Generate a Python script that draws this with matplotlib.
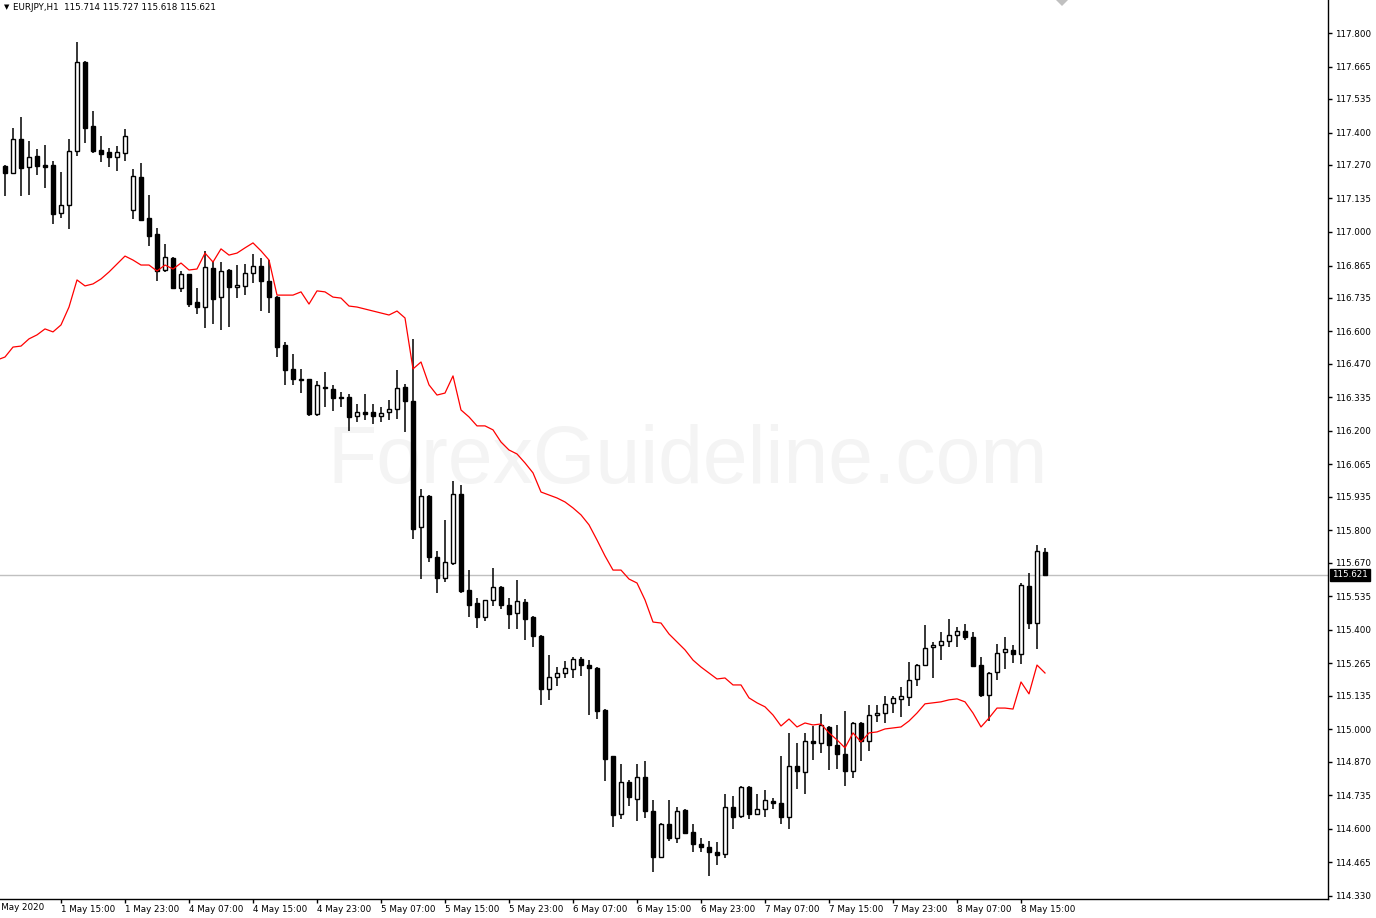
import matplotlib
matplotlib.use('Agg')
import matplotlib.pyplot as plt
from matplotlib.patches import Polygon

# EURJPY H1 candles, 1 May 08:00 .. 8 May 18:00
opens = [117.265, 117.237, 117.374, 117.261, 117.306, 117.269, 117.269, 117.076, 117.108, 117.326,
         117.684, 117.426, 117.330, 117.322, 117.302, 117.318, 117.088, 117.221, 117.056, 116.992,
         116.847, 116.895, 116.775, 116.831, 116.718, 116.698, 116.855, 116.738, 116.847, 116.779,
         116.783, 116.835, 116.863, 116.803, 116.738, 116.545, 116.449, 116.409, 116.409, 116.268,
         116.376, 116.368, 116.336, 116.336, 116.260, 116.276, 116.276, 116.260, 116.276, 116.288,
         116.376, 116.320, 115.813, 115.938, 115.693, 115.608, 115.669, 115.946, 115.560, 115.508,
         115.451, 115.520, 115.572, 115.500, 115.468, 115.512, 115.451, 115.375, 115.162, 115.210,
         115.226, 115.242, 115.282, 115.258, 115.246, 115.077, 114.892, 114.659, 114.788, 114.719,
         114.808, 114.671, 114.486, 114.619, 114.563, 114.675, 114.587, 114.538, 114.526, 114.506,
         114.498, 114.687, 114.651, 114.768, 114.659, 114.679, 114.711, 114.703, 114.647, 114.852,
         114.828, 114.953, 114.945, 115.009, 114.937, 114.900, 114.832, 115.025, 114.953, 115.057,
         115.065, 115.106, 115.122, 115.130, 115.202, 115.258, 115.331, 115.339, 115.355, 115.379,
         115.395, 115.371, 115.258, 115.138, 115.230, 115.311, 115.319, 115.303, 115.576, 115.427,
         115.714]
highs = [117.269, 117.418, 117.462, 117.366, 117.334, 117.350, 117.285, 117.241, 117.374, 117.764,
         117.688, 117.487, 117.386, 117.338, 117.346, 117.414, 117.253, 117.277, 117.149, 117.016,
         116.952, 116.899, 116.843, 116.831, 116.775, 116.924, 116.883, 116.879, 116.851, 116.867,
         116.871, 116.911, 116.895, 116.887, 116.742, 116.557, 116.509, 116.449, 116.409, 116.401,
         116.437, 116.385, 116.356, 116.348, 116.308, 116.348, 116.308, 116.296, 116.324, 116.445,
         116.389, 116.570, 115.966, 115.942, 115.717, 115.842, 115.998, 115.982, 115.640, 115.528,
         115.520, 115.648, 115.576, 115.528, 115.600, 115.524, 115.455, 115.379, 115.299, 115.250,
         115.274, 115.290, 115.290, 115.278, 115.250, 115.081, 114.892, 114.860, 114.796, 114.860,
         114.872, 114.715, 114.623, 114.715, 114.687, 114.679, 114.619, 114.563, 114.551, 114.547,
         114.740, 114.731, 114.772, 114.772, 114.740, 114.756, 114.723, 114.892, 114.985, 114.945,
         114.985, 115.013, 115.061, 115.013, 115.017, 115.073, 115.029, 115.029, 115.098, 115.098,
         115.134, 115.134, 115.170, 115.270, 115.262, 115.419, 115.351, 115.391, 115.443, 115.411,
         115.423, 115.391, 115.290, 115.230, 115.343, 115.371, 115.339, 115.588, 115.628, 115.741,
         115.727]
lows = [117.145, 117.233, 117.145, 117.149, 117.229, 117.177, 117.032, 117.056, 117.012, 117.306,
        117.358, 117.318, 117.281, 117.261, 117.245, 117.285, 117.052, 117.044, 116.944, 116.803,
        116.839, 116.771, 116.759, 116.698, 116.670, 116.614, 116.630, 116.606, 116.618, 116.734,
        116.746, 116.795, 116.682, 116.674, 116.497, 116.385, 116.385, 116.352, 116.260, 116.260,
        116.296, 116.280, 116.296, 116.200, 116.236, 116.244, 116.228, 116.236, 116.244, 116.248,
        116.196, 115.765, 115.604, 115.673, 115.548, 115.592, 115.661, 115.548, 115.451, 115.407,
        115.435, 115.496, 115.484, 115.403, 115.403, 115.359, 115.331, 115.098, 115.118, 115.174,
        115.206, 115.206, 115.214, 115.057, 115.041, 114.792, 114.607, 114.639, 114.691, 114.631,
        114.643, 114.426, 114.482, 114.551, 114.543, 114.579, 114.506, 114.506, 114.410, 114.454,
        114.482, 114.599, 114.643, 114.639, 114.655, 114.647, 114.679, 114.619, 114.599, 114.760,
        114.740, 114.876, 114.904, 114.836, 114.840, 114.772, 114.804, 114.872, 114.913, 115.029,
        115.025, 115.065, 115.049, 115.094, 115.174, 115.254, 115.206, 115.278, 115.331, 115.331,
        115.359, 115.250, 115.130, 115.033, 115.198, 115.242, 115.266, 115.262, 115.403, 115.323,
        115.618]
closes = [117.237, 117.374, 117.257, 117.302, 117.265, 117.261, 117.072, 117.108, 117.326, 117.684,
          117.418, 117.326, 117.314, 117.302, 117.322, 117.386, 117.225, 117.048, 116.984, 116.843,
          116.899, 116.775, 116.831, 116.710, 116.698, 116.859, 116.730, 116.843, 116.779, 116.787,
          116.835, 116.863, 116.803, 116.738, 116.537, 116.445, 116.409, 116.405, 116.268, 116.385,
          116.372, 116.332, 116.334, 116.256, 116.276, 116.268, 116.260, 116.272, 116.288, 116.372,
          116.320, 115.805, 115.938, 115.693, 115.608, 115.673, 115.946, 115.556, 115.500, 115.451,
          115.520, 115.572, 115.500, 115.464, 115.516, 115.443, 115.375, 115.162, 115.210, 115.226,
          115.246, 115.282, 115.258, 115.246, 115.073, 114.880, 114.655, 114.788, 114.727, 114.808,
          114.671, 114.486, 114.619, 114.563, 114.671, 114.583, 114.538, 114.526, 114.506, 114.494,
          114.687, 114.647, 114.768, 114.659, 114.679, 114.715, 114.703, 114.647, 114.852, 114.832,
          114.953, 114.945, 115.017, 114.937, 114.900, 114.832, 115.025, 114.953, 115.057, 115.065,
          115.102, 115.126, 115.134, 115.198, 115.258, 115.327, 115.339, 115.355, 115.379, 115.395,
          115.371, 115.254, 115.138, 115.226, 115.307, 115.323, 115.303, 115.580, 115.427, 115.717,
          115.621]

# red indicator line, one value per bar, starting one bar left of the first candle
red_line = [116.485,
            116.497, 116.537, 116.541, 116.570, 116.586, 116.610, 116.598, 116.626, 116.698, 116.807,
            116.783, 116.791, 116.811, 116.839, 116.871, 116.903, 116.887, 116.867, 116.867, 116.843,
            116.867, 116.851, 116.875, 116.847, 116.851, 116.915, 116.879, 116.932, 116.907, 116.915,
            116.936, 116.956, 116.924, 116.887, 116.746, 116.746, 116.746, 116.759, 116.710, 116.763,
            116.759, 116.738, 116.734, 116.702, 116.698, 116.690, 116.682, 116.674, 116.666, 116.682,
            116.654, 116.449, 116.477, 116.385, 116.344, 116.352, 116.421, 116.284, 116.256, 116.220,
            116.220, 116.204, 116.155, 116.123, 116.107, 116.071, 116.031, 115.954, 115.942, 115.930,
            115.914, 115.890, 115.862, 115.822, 115.761, 115.697, 115.640, 115.640, 115.604, 115.588,
            115.520, 115.431, 115.427, 115.383, 115.351, 115.319, 115.278, 115.250, 115.226, 115.202,
            115.206, 115.178, 115.178, 115.126, 115.106, 115.090, 115.057, 115.013, 115.041, 115.009,
            115.025, 115.017, 115.021, 114.985, 114.957, 114.925, 114.985, 114.949, 114.985, 114.989,
            115.001, 115.005, 115.009, 115.033, 115.065, 115.102, 115.106, 115.110, 115.118, 115.122,
            115.110, 115.065, 115.009, 115.045, 115.085, 115.085, 115.081, 115.190, 115.142, 115.258,
            115.226]

price_ticks = [117.800, 117.665, 117.535, 117.400, 117.270, 117.135, 117.000, 116.865, 116.735,
               116.600, 116.470, 116.335, 116.200, 116.065, 115.935, 115.800, 115.670, 115.535,
               115.400, 115.265, 115.135, 115.000, 114.870, 114.735, 114.600, 114.465, 114.330]

date_bars = [7, 15, 23, 31, 39, 47, 55, 63, 71, 79, 87, 95, 103, 111, 119, 127]
date_labels = ['1 May 15:00', '1 May 23:00', '4 May 07:00', '4 May 15:00', '4 May 23:00',
               '5 May 07:00', '5 May 15:00', '5 May 23:00', '6 May 07:00', '6 May 15:00',
               '6 May 23:00', '7 May 07:00', '7 May 15:00', '7 May 23:00', '8 May 07:00',
               '8 May 15:00']

symbol = 'EURJPY,H1'
last_price = closes[-1]

W, H = 1376, 918
fig = plt.figure(figsize=(W / 100, H / 100), dpi=100)
ax = fig.add_axes([0, 19 / H, 1328 / W, 1 - 19 / H])

idx = list(range(len(opens)))
ax.set_xlim(-5 / 8, (1328 - 5) / 8)
ax.set_ylim(114.317, 117.933)

# watermark
ax.text(0.518, 0.486, 'ForexGuideline.com', transform=ax.transAxes, ha='center', va='center',
        fontsize=58, family='Liberation Sans', color='#f4f4f4', zorder=0)

# current price line
ax.axhline(last_price, color='#c0c0c0', linewidth=1, zorder=1)

# wicks then bodies
ax.vlines(idx, lows, highs, color='black', linewidth=1.1, zorder=2)
bottoms = [min(o, c) for o, c in zip(opens, closes)]
heights = [max(abs(c - o), 0.002) for o, c in zip(opens, closes)]
faces = ['white' if c >= o else 'black' for o, c in zip(opens, closes)]
ax.bar(idx, heights, bottom=bottoms, width=0.5, color=faces, edgecolor='black',
       linewidth=1.0, zorder=3)

red_idx = list(range(-1, len(red_line) - 1))
ax.plot(red_idx, red_line, color='#ff0000', linewidth=0.9, zorder=4)

# axes look (MT4 style)
for side in ['left', 'top']:
    ax.spines[side].set_visible(False)
for side in ['right', 'bottom']:
    ax.spines[side].set_color('black')
    ax.spines[side].set_linewidth(1)

ax.yaxis.tick_right()
ax.set_yticks(price_ticks)
ax.set_yticklabels(['%.3f' % v for v in price_ticks])
ax.tick_params(axis='y', direction='out', length=3, width=1, pad=2, labelsize=6.3)

ax.set_xticks(date_bars)
ax.set_xticklabels(date_labels, ha='left')
ax.tick_params(axis='x', direction='out', length=3, width=1, pad=1.5, labelsize=6.3)

# first date label, cut by left edge as in MT4
fig.text(-7 / W, 1 - 908 / H, '1 May 2020', fontsize=6.3, va='center', ha='left')

# last price box on the price scale
ax.annotate('%.3f' % last_price, xy=(1.0, last_price), xycoords=ax.get_yaxis_transform(),
            xytext=(4, 0), textcoords='offset pixels', ha='left', va='center',
            fontsize=6.3, color='white',
            bbox=dict(boxstyle='square,pad=0.2', facecolor='black', edgecolor='black'))

# header
fig.text(4 / W, 1 - 7 / H, '\u25bc', fontsize=5, va='center', ha='left')
fig.text(13 / W, 1 - 7 / H, '%s  %.3f %.3f %.3f %.3f' % (symbol, opens[-1], highs[-1], lows[-1],
                                                       closes[-1]),
         fontsize=6.3, va='center', ha='left')

# chart shift marker at the top
fig.patches.append(Polygon([[1056 / W, 1.0], [1068 / W, 1.0], [1062 / W, 1 - 6 / H]],
                           closed=True, transform=fig.transFigure, facecolor='#c0c0c0',
                           edgecolor='none'))

fig.savefig('out.png', dpi=100)
